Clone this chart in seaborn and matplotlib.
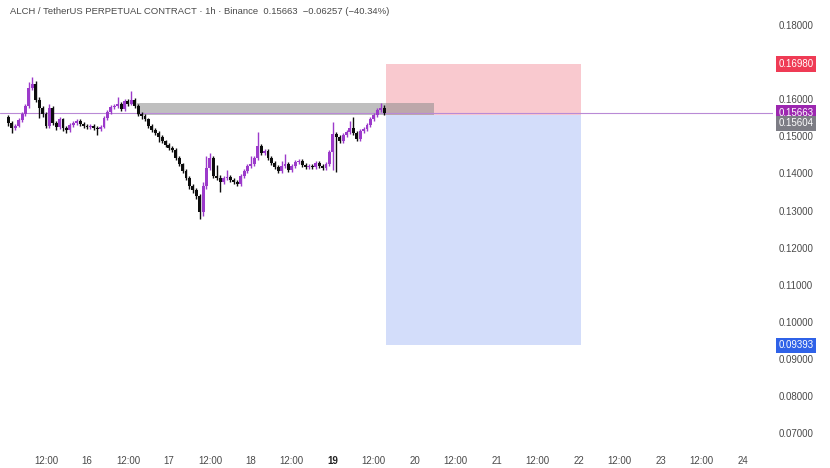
import numpy as np
import pandas as pd
import seaborn as sns
import matplotlib
matplotlib.use("Agg")
import matplotlib.pyplot as plt
from matplotlib.patches import Rectangle
from matplotlib.transforms import blended_transform_factory

# ---------------- data (hourly candles, hour index from day 15 00:00) ----------------
hours = list(range(1, 112))
opens = [0.1555, 0.1539, 0.1525, 0.1531, 0.1547, 0.1563, 0.1584, 0.1633, 0.1644, 0.1601,
         0.1579, 0.1563, 0.1531, 0.1579, 0.1539, 0.1528, 0.1549, 0.1525, 0.1520, 0.1533,
         0.1539, 0.1544, 0.1536, 0.1531, 0.1528, 0.1531, 0.1525, 0.1522, 0.1528, 0.1552,
         0.1568, 0.1582, 0.1584, 0.1590, 0.1576, 0.1598, 0.1590, 0.1601, 0.1584, 0.1563,
         0.1557, 0.1549, 0.1531, 0.1520, 0.1512, 0.1501, 0.1490, 0.1479, 0.1471, 0.1466,
         0.1444, 0.1428, 0.1409, 0.1390, 0.1369, 0.1358, 0.1342, 0.1299, 0.1369, 0.1417,
         0.1444, 0.1396, 0.1390, 0.1380, 0.1390, 0.1393, 0.1385, 0.1380, 0.1374, 0.1396,
         0.1409, 0.1423, 0.1428, 0.1444, 0.1477, 0.1458, 0.1463, 0.1444, 0.1431, 0.1420,
         0.1409, 0.1423, 0.1428, 0.1412, 0.1423, 0.1433, 0.1436, 0.1425, 0.1420, 0.1423,
         0.1420, 0.1431, 0.1423, 0.1417, 0.1428, 0.1460, 0.1509, 0.1501, 0.1490, 0.1506,
         0.1514, 0.1525, 0.1512, 0.1495, 0.1517, 0.1522, 0.1533, 0.1549, 0.1560, 0.1574,
         0.1579]
closes = [0.1539, 0.1525, 0.1531, 0.1547, 0.1563, 0.1584, 0.1633, 0.1644, 0.1601, 0.1579,
          0.1563, 0.1531, 0.1579, 0.1539, 0.1528, 0.1549, 0.1525, 0.1520, 0.1533, 0.1539,
          0.1544, 0.1536, 0.1531, 0.1528, 0.1531, 0.1525, 0.1522, 0.1528, 0.1552, 0.1568,
          0.1582, 0.1584, 0.1590, 0.1576, 0.1598, 0.1590, 0.1601, 0.1584, 0.1563, 0.1557,
          0.1549, 0.1531, 0.1520, 0.1512, 0.1501, 0.1490, 0.1479, 0.1471, 0.1466, 0.1444,
          0.1428, 0.1409, 0.1390, 0.1369, 0.1358, 0.1342, 0.1299, 0.1369, 0.1417, 0.1444,
          0.1396, 0.1390, 0.1380, 0.1390, 0.1393, 0.1385, 0.1380, 0.1374, 0.1396, 0.1409,
          0.1423, 0.1428, 0.1444, 0.1477, 0.1458, 0.1463, 0.1444, 0.1431, 0.1420, 0.1409,
          0.1423, 0.1428, 0.1412, 0.1423, 0.1433, 0.1436, 0.1425, 0.1420, 0.1423, 0.1420,
          0.1431, 0.1423, 0.1417, 0.1428, 0.1460, 0.1509, 0.1501, 0.1490, 0.1506, 0.1514,
          0.1525, 0.1512, 0.1495, 0.1517, 0.1522, 0.1533, 0.1549, 0.1560, 0.1574, 0.1579,
          0.15663]
highs = [0.1561, 0.1544, 0.1537, 0.1552, 0.1569, 0.1590, 0.1650, 0.1663, 0.1652, 0.1610,
         0.1585, 0.1568, 0.1590, 0.1584, 0.1544, 0.1555, 0.1553, 0.1530, 0.1538, 0.1545,
         0.1550, 0.1549, 0.1541, 0.1536, 0.1537, 0.1535, 0.1530, 0.1533, 0.1557, 0.1574,
         0.1588, 0.1590, 0.1609, 0.1595, 0.1604, 0.1603, 0.1625, 0.1606, 0.1589, 0.1568,
         0.1562, 0.1553, 0.1535, 0.1524, 0.1516, 0.1505, 0.1494, 0.1484, 0.1476, 0.1470,
         0.1449, 0.1432, 0.1414, 0.1395, 0.1374, 0.1363, 0.1347, 0.1380, 0.1450, 0.1458,
         0.1450, 0.1425, 0.1398, 0.1396, 0.1412, 0.1398, 0.1390, 0.1385, 0.1402, 0.1415,
         0.1428, 0.1450, 0.1449, 0.1514, 0.1482, 0.1469, 0.1468, 0.1449, 0.1436, 0.1425,
         0.1436, 0.1455, 0.1433, 0.1428, 0.1439, 0.1442, 0.1441, 0.1430, 0.1429, 0.1428,
         0.1437, 0.1436, 0.1428, 0.1434, 0.1466, 0.1541, 0.1515, 0.1506, 0.1512, 0.1520,
         0.1544, 0.1555, 0.1517, 0.1522, 0.1528, 0.1539, 0.1555, 0.1566, 0.1580, 0.1592,
         0.1587]
lows = [0.1530, 0.1512, 0.1519, 0.1527, 0.1542, 0.1558, 0.1580, 0.1627, 0.1595, 0.1552,
        0.1556, 0.1525, 0.1526, 0.1533, 0.1520, 0.1522, 0.1518, 0.1512, 0.1515, 0.1528,
        0.1534, 0.1531, 0.1526, 0.1522, 0.1523, 0.1519, 0.1506, 0.1516, 0.1524, 0.1547,
        0.1563, 0.1577, 0.1579, 0.1571, 0.1572, 0.1585, 0.1586, 0.1579, 0.1557, 0.1550,
        0.1543, 0.1525, 0.1514, 0.1506, 0.1487, 0.1484, 0.1473, 0.1466, 0.1460, 0.1438,
        0.1422, 0.1403, 0.1384, 0.1362, 0.1350, 0.1335, 0.1280, 0.1288, 0.1362, 0.1411,
        0.1390, 0.1384, 0.1353, 0.1374, 0.1384, 0.1380, 0.1374, 0.1368, 0.1369, 0.1390,
        0.1404, 0.1418, 0.1423, 0.1439, 0.1452, 0.1453, 0.1439, 0.1425, 0.1414, 0.1403,
        0.1404, 0.1418, 0.1406, 0.1407, 0.1418, 0.1428, 0.1420, 0.1414, 0.1415, 0.1414,
        0.1415, 0.1418, 0.1411, 0.1412, 0.1423, 0.1412, 0.1406, 0.1484, 0.1485, 0.1500,
        0.1509, 0.1506, 0.1489, 0.1490, 0.1511, 0.1517, 0.1528, 0.1543, 0.1555, 0.1568,
        0.1560]

last_price = 0.15663
entry_price = 0.15604
stop_price = 0.16980
target_price = 0.09393
zone_top = 0.15920
zone_hours = [38.6, 125.6]
position_hours = [111.5, 168.6]

y_ticks = [0.18, 0.17, 0.16, 0.15, 0.14, 0.13, 0.12, 0.11, 0.10, 0.09, 0.08, 0.07]
x_ticks = [12, 24, 36, 48, 60, 72, 84, 96, 108, 120, 132, 144, 156, 168, 180, 192, 204, 216]
x_labels = ["12:00", "16", "12:00", "17", "12:00", "18", "12:00", "19", "12:00",
            "20", "12:00", "21", "12:00", "22", "12:00", "23", "12:00", "24"]
title = "ALCH / TetherUS PERPETUAL CONTRACT · 1h · Binance  0.15663  \u22120.06257 (\u221240.34%)"

df = pd.DataFrame({"hour": hours, "open": opens, "high": highs, "low": lows, "close": closes})
df["up"] = df["close"] >= df["open"]

# ---------------- style ----------------
sns.set_theme(style="white")
plt.rcParams["font.family"] = ["Liberation Sans", "DejaVu Sans"]

UP = "#9c3acb"
DOWN = "#0d0d0d"
TXT = "#4a4a4a"

fig = plt.figure(figsize=(8.30, 4.68), dpi=100)
ax = fig.add_axes([0.0, 0.049, 0.931, 0.951])
ax.set_xlim(-1.46, 224.8)
ax.set_ylim(0.0671, 0.1870)

# position boxes
ax.add_patch(Rectangle((position_hours[0], entry_price), position_hours[1] - position_hours[0],
                       stop_price - entry_price, facecolor="#f9c9cf", edgecolor="none", zorder=1))
ax.add_patch(Rectangle((position_hours[0], target_price), position_hours[1] - position_hours[0],
                       entry_price - target_price, facecolor="#d3ddfa", edgecolor="none", zorder=1))
# gray zone
ax.add_patch(Rectangle((zone_hours[0], entry_price), zone_hours[1] - zone_hours[0],
                       zone_top - entry_price, facecolor="#8c8c8c", alpha=0.55,
                       edgecolor="none", zorder=2))

# last price line
ax.axhline(last_price, color="#b98ad6", lw=0.8, zorder=3)

# candles
colors = np.where(df["up"], UP, DOWN)
ax.vlines(df["hour"], df["low"], df["high"], colors=colors, lw=1.0, zorder=4)
body_bottom = np.minimum(df["open"], df["close"])
body_h = np.maximum(np.abs(df["close"] - df["open"]), 0.00030)
ax.bar(df["hour"], body_h, bottom=body_bottom, width=0.85, color=colors,
       edgecolor="none", zorder=5)

# axes decoration
for s in ax.spines.values():
    s.set_visible(False)
ax.set_xticks(x_ticks)
ax.set_xticklabels(x_labels)
ax.tick_params(axis="x", length=0, labelsize=7, colors=TXT, pad=8)
for lbl in ax.get_xticklabels():
    if lbl.get_text() == "19":
        lbl.set_fontweight("bold")
        lbl.set_color("#222222")
ax.set_yticks([])
ax.grid(False)

# right price scale (x in figure fraction, y in price)
trans = blended_transform_factory(fig.transFigure, ax.transData)
XLAB = 796 / 830
for v in y_ticks:
    if abs(v - 0.17) < 1e-9:
        continue
    ax.text(XLAB, v, f"{v:.5f}", transform=trans, ha="center", va="center",
            fontsize=7, color=TXT, clip_on=False)

def tag(v, color, ypos=None):
    ax.text(XLAB, v if ypos is None else ypos, f"{v:.5f}", transform=trans,
            ha="center", va="center", fontsize=7, color="white", clip_on=False, zorder=10,
            bbox=dict(boxstyle="square,pad=0.28", facecolor=color, edgecolor="none"))

tag(stop_price, "#ef3b55")
tag(last_price, "#9c27b0")
tag(entry_price, "#7d7d85", ypos=0.1538)   # pushed down to avoid overlapping the last-price tag
tag(target_price, "#2f62e8")

fig.text(0.012, 0.985, title, ha="left", va="top", fontsize=6.8, color=TXT)

fig.savefig("out.png", dpi=100, facecolor="white")
